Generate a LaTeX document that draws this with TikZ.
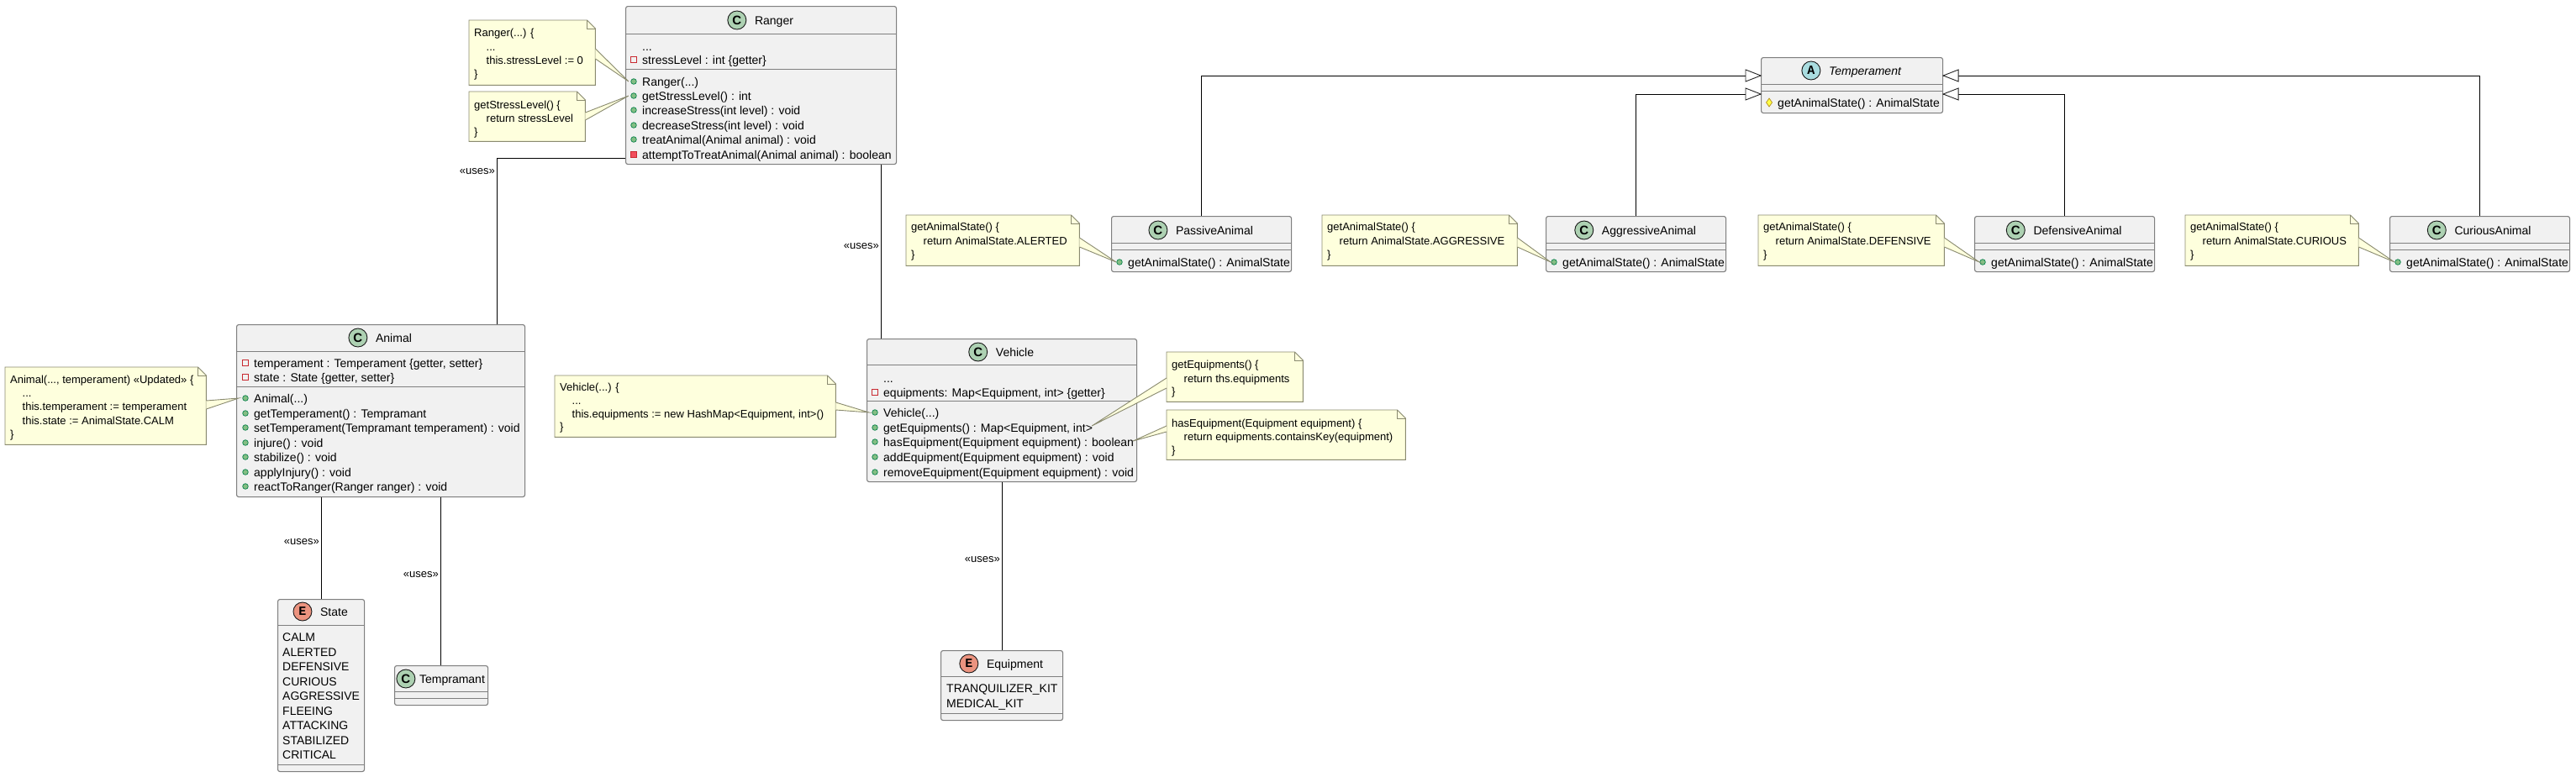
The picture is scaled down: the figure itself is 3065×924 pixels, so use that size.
\documentclass[tikz,border=0pt]{standalone}
\usepackage{fontspec}
\setmainfont{Liberation Sans}
\newfontfamily\spotmono{Liberation Mono}
\usetikzlibrary{calc}
\definecolor{clsfill}{HTML}{F1F1F1}
\definecolor{clsdraw}{HTML}{7F7F7F}
\definecolor{notefill}{HTML}{FEFFDD}
\definecolor{notedraw}{HTML}{8A8A70}
\definecolor{cspot}{HTML}{ADD1B2}
\definecolor{espot}{HTML}{EB937F}
\definecolor{aspot}{HTML}{A9DCDF}
\definecolor{privd}{HTML}{C82930}
\definecolor{privf}{HTML}{F24D5C}
\definecolor{pubd}{HTML}{038048}
\definecolor{pubf}{HTML}{84BE84}
\definecolor{protd}{HTML}{B38D22}
\definecolor{protf}{HTML}{FFFF44}
\tikzset{
 cls/.style={draw=clsdraw, fill=clsfill, line width=1.1pt, rounded corners=2.5pt, inner sep=0pt, anchor=north west},
 sepl/.style={draw=clsdraw, line width=1pt},
 mtx/.style={inner sep=0pt, anchor=base west, font=\fontsize{14}{17}\selectfont},
 ntx/.style={inner sep=0pt, anchor=base west, font=\fontsize{13}{16}\selectfont},
 ulab/.style={inner sep=0pt, anchor=base east, font=\fontsize{13}{16}\selectfont},
 conn/.style={draw=black, line width=1pt},
 notebg/.style={fill=notefill, draw=notedraw, line width=0.9pt, line join=miter},
 gen/.style={draw=black!85, fill=white, line width=0.9pt, line join=miter},
}
\newcommand{\clsbox}[5]{\node[cls, minimum width={(#4-#2)*1pt}, minimum height={(#5-#3)*1pt}] (#1) at (#2,#3) {};}
\newcommand{\chead}[7][32pt]{%
 \node[inner sep=0pt, text height=10pt, text depth=0pt, font=\fontsize{14}{17}\selectfont#7] (#2) at (#3,#4) {\hspace*{#1}#6};
 \draw[draw=black!90, fill=#5, line width=0.9pt] ([xshift=11pt]#2.west) circle (11pt);
}
\newcommand{\spot}[2]{\node[inner sep=0pt, font=\fontsize{15}{15}\selectfont\bfseries] at ([xshift=11pt]#1.west) {#2};}
\newcommand{\plainm}[3]{\node[mtx] at (#1+10,#2+5) {#3};}
\newcommand{\pubm}[3]{\draw[draw=pubd, fill=pubf, line width=.7pt] (#1,#2) circle (3.3pt); \node[mtx] at (#1+10,#2+5) {#3};}
\newcommand{\privf}[3]{\draw[draw=privd, line width=1pt] (#1-3.5,#2-3.5) rectangle (#1+3.5,#2+3.5); \node[mtx] at (#1+10,#2+5) {#3};}
\newcommand{\privm}[3]{\draw[draw=privd, fill=privf, line width=.7pt] (#1-3.5,#2-3.5) rectangle (#1+3.5,#2+3.5); \node[mtx] at (#1+10,#2+5) {#3};}
\newcommand{\protm}[3]{\draw[draw=protd, fill=protf, line width=.7pt] (#1,#2-5) -- (#1+3.5,#2) -- (#1,#2+5) -- (#1-3.5,#2) -- cycle; \node[mtx] at (#1+10,#2+5) {#3};}
\newcommand{\notebox}[5]{%
 \node[inner sep=0pt, minimum width={(#4-#2)*1pt}, minimum height={(#5-#3)*1pt}, anchor=north west] (#1) at (#2,#3) {};
 \draw[notebg] (#1.north west) -- ([xshift=-10pt]#1.north east) -- ([yshift=-10pt]#1.north east) -- (#1.south east) -- (#1.south west) -- cycle;
 \draw[draw=notedraw, line width=.9pt, line join=miter] ([xshift=-10pt]#1.north east) -- ([xshift=-10pt,yshift=-10pt]#1.north east) -- ([yshift=-10pt]#1.north east);
}
\newcommand{\ntxt}[3]{\node[ntx] at (#1,#2+4.5) {#3};}
\newcommand{\notept}[3]{%
 \fill[notefill] #1 -- #3 -- #2 -- cycle;
 \draw[draw=notedraw, line width=.9pt, line join=miter] #1 -- #3 -- #2;
}
\begin{document}
\begin{tikzpicture}[x=1pt,y=-1pt]
\useasboundingbox (0,0) rectangle (3065,924);
\fill[white] (0,0) rectangle (3065,924);

% ---------- class boxes ----------
\clsbox{ranger}{744}{7}{1066}{195}
\clsbox{animal}{281}{386}{624}{591}
\clsbox{state}{330}{713}{433}{918}
\clsbox{tempr}{469}{792}{580}{839}
\clsbox{vehicle}{1031}{403}{1352}{573}
\clsbox{equip}{1119}{774}{1264}{857}
\clsbox{temper}{2095}{68}{2311}{134}
\clsbox{passive}{1322}{257}{1536}{323}
\clsbox{aggr}{1839}{257}{2053}{323}
\clsbox{defen}{2349}{257}{2563}{323}
\clsbox{curious}{2843}{257}{3057}{323}

% ---------- connectors ----------
\draw[conn] (ranger.west |- 0,188) -| (591,0 |- animal.north);
\node[ulab] at (589,207.5) {«uses»};
\draw[conn] (1048,0 |- ranger.south) -- (1048,0 |- vehicle.north);
\node[ulab] at (1046,296.5) {«uses»};
\draw[conn] (382,0 |- animal.south) -- (382,0 |- state.north);
\node[ulab] at (380,648.5) {«uses»};
\draw[conn] (524,0 |- animal.south) -- (524,0 |- tempr.north);
\node[ulab] at (522,687.5) {«uses»};
\draw[conn] (1192,0 |- vehicle.south) -- (1192,0 |- equip.north);
\node[ulab] at (1190,669.5) {«uses»};

\draw[conn] (1429,0 |- passive.north) |- (temper.west |- 0,90);
\draw[conn] (1946,0 |- aggr.north) |- (temper.west |- 0,112);
\draw[conn] (2456,0 |- defen.north) |- (temper.east |- 0,112);
\draw[conn] (2950,0 |- curious.north) |- (temper.east |- 0,90);

% ---------- Ranger ----------
\chead{hRanger}{905}{24}{cspot}{Ranger}{}
\spot{hRanger}{C}
\draw[sepl] (ranger.west |- 0,40) -- (ranger.east |- 0,40);
\draw[sepl] (ranger.west |- 0,82) -- (ranger.east |- 0,82);
\plainm{754}{55}{...}
\privf{754}{71}{stressLevel : int \{getter\}}
\pubm{754}{97}{Ranger(...)}
\pubm{754}{114}{getStressLevel() : int}
\pubm{754}{131}{increaseStress(int level) : void}
\pubm{754}{149}{decreaseStress(int level) : void}
\pubm{754}{166}{treatAnimal(Animal animal) : void}
\privm{754}{184}{attemptToTreatAnimal(Animal animal) : boolean}

% ---------- Animal ----------
\chead{hAnimal}{452.5}{402}{cspot}{Animal}{}
\spot{hAnimal}{C}
\draw[sepl] (animal.west |- 0,418) -- (animal.east |- 0,418);
\draw[sepl] (animal.west |- 0,460) -- (animal.east |- 0,460);
\privf{292}{432}{temperament : Temperament \{getter, setter\}}
\privf{292}{449}{state : State \{getter, setter\}}
\pubm{292}{474}{Animal(...)}
\pubm{292}{492}{getTemperament() : Tempramant}
\pubm{292}{509}{setTemperament(Tempramant temperament) : void}
\pubm{292}{527}{injure() : void}
\pubm{292}{544}{stabilize() : void}
\pubm{292}{562}{applyInjury() : void}
\pubm{292}{579}{reactToRanger(Ranger ranger) : void}

% ---------- State ----------
\chead{hState}{381.5}{728}{espot}{State}{}
\spot{hState}{\spotmono E}
\draw[sepl] (state.west |- 0,744) -- (state.east |- 0,744);
\draw[sepl] (state.west |- 0,910) -- (state.east |- 0,910);
\node[mtx] at (336,763) {CALM};
\node[mtx] at (336,781) {ALERTED};
\node[mtx] at (336,798) {DEFENSIVE};
\node[mtx] at (336,816) {CURIOUS};
\node[mtx] at (336,833) {AGGRESSIVE};
\node[mtx] at (336,851) {FLEEING};
\node[mtx] at (336,868) {ATTACKING};
\node[mtx] at (336,886) {STABILIZED};
\node[mtx] at (336,903) {CRITICAL};

% ---------- Tempramant ----------
\chead[27pt]{hTempr}{524.5}{808}{cspot}{Tempramant}{}
\spot{hTempr}{C}
\draw[sepl] (tempr.west |- 0,823) -- (tempr.east |- 0,823);
\draw[sepl] (tempr.west |- 0,831) -- (tempr.east |- 0,831);

% ---------- Vehicle ----------
\chead{hVehicle}{1191.5}{419}{cspot}{Vehicle}{}
\spot{hVehicle}{C}
\draw[sepl] (vehicle.west |- 0,434) -- (vehicle.east |- 0,434);
\draw[sepl] (vehicle.west |- 0,477) -- (vehicle.east |- 0,477);
\plainm{1041}{450}{...}
\privf{1041}{467}{equipments: Map<Equipment, int> \{getter\}}
\pubm{1041}{491}{Vehicle(...)}
\pubm{1041}{509}{getEquipments() : Map<Equipment, int>}
\pubm{1041}{526}{hasEquipment(Equipment equipment) : boolean}
\pubm{1041}{544}{addEquipment(Equipment equipment) : void}
\pubm{1041}{562}{removeEquipment(Equipment equipment) : void}

% ---------- Equipment ----------
\chead{hEquip}{1191.5}{790}{espot}{Equipment}{}
\spot{hEquip}{\spotmono E}
\draw[sepl] (equip.west |- 0,805) -- (equip.east |- 0,805);
\draw[sepl] (equip.west |- 0,849) -- (equip.east |- 0,849);
\node[mtx] at (1126,824) {TRANQUILIZER\_KIT};
\node[mtx] at (1126,842) {MEDICAL\_KIT};

% ---------- Temperament ----------
\chead{hTemper}{2203}{84}{aspot}{Temperament}{\itshape}
\spot{hTemper}{\spotmono A}
\draw[sepl] (temper.west |- 0,100) -- (temper.east |- 0,100);
\draw[sepl] (temper.west |- 0,108) -- (temper.east |- 0,108);
\protm{2105}{122}{getAnimalState() : AnimalState}
\draw[gen] (temper.west |- 0,90) -- ++(-18,-7) -- ++(0,14) -- cycle;
\draw[gen] (temper.west |- 0,112) -- ++(-18,-7) -- ++(0,14) -- cycle;
\draw[gen] (temper.east |- 0,90) -- ++(18,-7) -- ++(0,14) -- cycle;
\draw[gen] (temper.east |- 0,112) -- ++(18,-7) -- ++(0,14) -- cycle;

% ---------- subclasses ----------
\chead{hPassive}{1429}{274}{cspot}{PassiveAnimal}{}
\spot{hPassive}{C}
\draw[sepl] (passive.west |- 0,289) -- (passive.east |- 0,289);
\draw[sepl] (passive.west |- 0,297) -- (passive.east |- 0,297);
\pubm{1332}{312}{getAnimalState() : AnimalState}

\chead{hAggr}{1946}{274}{cspot}{AggressiveAnimal}{}
\spot{hAggr}{C}
\draw[sepl] (aggr.west |- 0,289) -- (aggr.east |- 0,289);
\draw[sepl] (aggr.west |- 0,297) -- (aggr.east |- 0,297);
\pubm{1849}{312}{getAnimalState() : AnimalState}

\chead{hDefen}{2456}{274}{cspot}{DefensiveAnimal}{}
\spot{hDefen}{C}
\draw[sepl] (defen.west |- 0,289) -- (defen.east |- 0,289);
\draw[sepl] (defen.west |- 0,297) -- (defen.east |- 0,297);
\pubm{2359}{312}{getAnimalState() : AnimalState}

\chead{hCurious}{2950}{274}{cspot}{CuriousAnimal}{}
\spot{hCurious}{C}
\draw[sepl] (curious.west |- 0,289) -- (curious.east |- 0,289);
\draw[sepl] (curious.west |- 0,297) -- (curious.east |- 0,297);
\pubm{2853}{312}{getAnimalState() : AnimalState}

% ---------- notes ----------
\notebox{nR1}{558}{24}{708}{101}
\ntxt{564}{39}{Ranger(...) \{}
\ntxt{578.5}{56}{...}
\ntxt{578.5}{72}{this.stressLevel := 0}
\ntxt{564}{88}{\}}
\notept{(nR1.east |- 0,58)}{(nR1.east |- 0,70)}{([xshift=4pt]ranger.west |- 0,97)}

\notebox{nR2}{558}{109}{696}{168}
\ntxt{564}{125}{getStressLevel() \{}
\ntxt{578.5}{141}{return stressLevel}
\ntxt{564}{157}{\}}
\notept{(nR2.east |- 0,134)}{(nR2.east |- 0,143)}{([xshift=4pt]ranger.west |- 0,114)}

\notebox{nA}{6}{437}{245}{529}
\ntxt{12}{452}{Animal(..., temperament) «Updated» \{}
\ntxt{26.5}{468}{...}
\ntxt{26.5}{484}{this.temperament := temperament}
\ntxt{26.5}{501}{this.state := AnimalState.CALM}
\ntxt{12}{517}{\}}
\notept{(nA.east |- 0,477)}{(nA.east |- 0,487)}{([xshift=3pt]animal.west |- 0,474)}

\notebox{nV}{660}{447}{994}{520}
\ntxt{666}{461}{Vehicle(...) \{}
\ntxt{680.5}{477}{...}
\ntxt{680.5}{493}{this.equipments := new HashMap<Equipment, int>()}
\ntxt{666}{508}{\}}
\notept{(nV.east |- 0,479)}{(nV.east |- 0,488)}{([xshift=3pt]vehicle.west |- 0,491)}

\notebox{nGE}{1388}{419}{1550}{478}
\ntxt{1394}{434}{getEquipments() \{}
\ntxt{1408.5}{451}{return ths.equipments}
\ntxt{1394}{466}{\}}
\notept{(nGE.west |- 0,450)}{(nGE.west |- 0,462)}{([xshift=-54pt]vehicle.east |- 0,507)}

\notebox{nHE}{1388}{488}{1672}{547}
\ntxt{1394}{504}{hasEquipment(Equipment equipment) \{}
\ntxt{1408.5}{520}{return equipments.containsKey(equipment)}
\ntxt{1394}{536}{\}}
\notept{(nHE.west |- 0,507)}{(nHE.west |- 0,514)}{([xshift=-5pt]vehicle.east |- 0,525)}

\notebox{nP}{1078}{256}{1284}{316}
\ntxt{1084}{270}{getAnimalState() \{}
\ntxt{1098.5}{287}{return AnimalState.ALERTED}
\ntxt{1084}{303}{\}}
\notept{(nP.east |- 0,283)}{(nP.east |- 0,294)}{([xshift=6pt]passive.west |- 0,312)}

\notebox{nAg}{1573}{256}{1805}{316}
\ntxt{1579}{270}{getAnimalState() \{}
\ntxt{1593.5}{287}{return AnimalState.AGGRESSIVE}
\ntxt{1579}{303}{\}}
\notept{(nAg.east |- 0,283)}{(nAg.east |- 0,294)}{([xshift=6pt]aggr.west |- 0,312)}

\notebox{nD}{2092}{256}{2313}{316}
\ntxt{2098}{270}{getAnimalState() \{}
\ntxt{2112.5}{287}{return AnimalState.DEFENSIVE}
\ntxt{2098}{303}{\}}
\notept{(nD.east |- 0,283)}{(nD.east |- 0,294)}{([xshift=6pt]defen.west |- 0,312)}

\notebox{nC}{2600}{256}{2806}{316}
\ntxt{2606}{270}{getAnimalState() \{}
\ntxt{2620.5}{287}{return AnimalState.CURIOUS}
\ntxt{2606}{303}{\}}
\notept{(nC.east |- 0,283)}{(nC.east |- 0,294)}{([xshift=6pt]curious.west |- 0,312)}
\end{tikzpicture}
\end{document}
